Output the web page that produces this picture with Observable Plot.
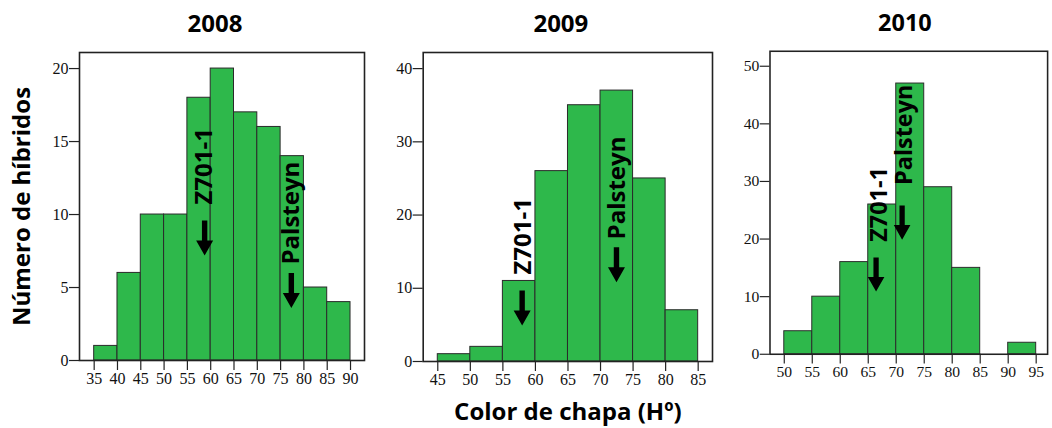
<!DOCTYPE html>
<html>
<head>
<meta charset="utf-8">
<script src="https://cdn.jsdelivr.net/npm/d3@7"></script>
<script src="https://cdn.jsdelivr.net/npm/@observablehq/plot@0.6"></script>
<style>
  html, body { margin: 0; padding: 0; background: #fff; }
  #wrap { position: relative; width: 1052px; height: 428px; overflow: hidden; background: #fff; }
  .panel { position: absolute; top: 0; }
</style>
</head>
<body>
<div id="wrap">
  <div class="panel" id="p2008" style="left:0px"></div>
  <div class="panel" id="p2009" style="left:370px"></div>
  <div class="panel" id="p2010" style="left:720px"></div>
</div>
<script>
// ---- Data ----
const years = ["2008", "2009", "2010"];

const edges2008 = [35, 40, 45, 50, 55, 60, 65, 70, 75, 80, 85, 90];
const counts2008 = [1, 6, 10, 10, 18, 20, 17, 16, 14, 5, 4];
const edges2009 = [45, 50, 55, 60, 65, 70, 75, 80, 85];
const counts2009 = [1, 2, 11, 26, 35, 37, 25, 7];
const edges2010 = [50, 55, 60, 65, 70, 75, 80, 85, 90, 95];
const counts2010 = [4, 10, 16, 26, 47, 29, 15, 0, 2];

const xTicks2008 = [35, 40, 45, 50, 55, 60, 65, 70, 75, 80, 85, 90];
const xTicks2009 = [45, 50, 55, 60, 65, 70, 75, 80, 85];
const xTicks2010 = [50, 55, 60, 65, 70, 75, 80, 85, 90, 95];
const yTicks2008 = [0, 5, 10, 15, 20];
const yTicks2009 = [0, 10, 20, 30, 40];
const yTicks2010 = [0, 10, 20, 30, 40, 50];

// annotation labels and their positions (x = color Hº, y = count level)
const labelNames = ["Z701-1", "Palsteyn"];
const labelX2008 = [58.7, 77.3];
const labelY2008 = [13.3, 10.1];
const arrowX2008 = [58.7, 77.3];
const arrowY2008 = [8.4, 4.8];
const labelX2009 = [58.2, 72.55];
const labelY2009 = [17.1, 23.7];
const arrowX2009 = [57.96, 72.45];
const arrowY2009 = [7.3, 13.2];
const labelX2010 = [67.1, 71.45];
const labelY2010 = [26.0, 38.1];
const arrowX2010 = [66.4, 71.05];
const arrowY2010 = [13.85, 22.85];

const yTitle = "Número de híbridos";
const xTitle = "Color de chapa (Hº)";

// ---- Styling ----
const GREEN = "#2eb84b";
const BOLD = "'Open Sans', 'DejaVu Sans', sans-serif";
const SERIF = "'Liberation Serif', 'Times New Roman', serif";

const arrowSymbol = {
  draw(ctx) {
    ctx.moveTo(-2.7, -17.5);
    ctx.lineTo(2.7, -17.5);
    ctx.lineTo(2.7, 2.5);
    ctx.lineTo(8.5, 2.5);
    ctx.lineTo(0, 17.5);
    ctx.lineTo(-8.5, 2.5);
    ctx.lineTo(-2.7, 2.5);
    ctx.closePath();
  }
};

function bins(edges, counts) {
  return counts.map((c, i) => ({x1: edges[i], x2: edges[i + 1], n: c})).filter(d => d.n > 0);
}
function pts(xs, ys, names) {
  return xs.map((x, i) => ({x, y: ys[i], name: names ? names[i] : null}));
}

function panel(cfg) {
  const marks = [
    Plot.rectY(bins(cfg.edges, cfg.counts), {x1: "x1", x2: "x2", y: "n", fill: GREEN, stroke: "#2a2a2a", strokeWidth: 1, insetLeft: 0, insetRight: 0}),
    Plot.frame({stroke: "#222", strokeWidth: 1.6}),
    Plot.axisX({ticks: cfg.xTicks, tickSize: 10, tickPadding: 2, label: null, stroke: "#222", strokeWidth: 1.2, fill: "#111", fontFamily: SERIF, fontSize: 16}),
    Plot.axisY({ticks: cfg.yTicks, tickSize: 10, tickPadding: 1, label: null, stroke: "#222", strokeWidth: 1.2, fill: "#111", fontFamily: SERIF, fontSize: 16}),
    Plot.text(pts(cfg.labelX, cfg.labelY, labelNames), {x: "x", y: "y", text: "name", rotate: -90, textAnchor: "middle", lineAnchor: "middle", fontFamily: BOLD, fontWeight: "bold", fontSize: 24, fill: "#000"}),
    Plot.dot(pts(cfg.arrowX, cfg.arrowY), {x: "x", y: "y", symbol: arrowSymbol, fill: "#000", stroke: "none", r: 10}),
    Plot.text([cfg.title], {frameAnchor: "top", dy: -28.5, dx: cfg.titleDx, textAnchor: "middle", lineAnchor: "middle", fontFamily: BOLD, fontWeight: "bold", fontSize: 24, fill: "#000"})
  ];
  if (cfg.yTitle) marks.push(Plot.text([cfg.yTitle], {frameAnchor: "left", dx: -57, rotate: -90, textAnchor: "middle", lineAnchor: "middle", fontFamily: BOLD, fontWeight: "bold", fontSize: 24, fill: "#000"}));
  if (cfg.xTitle) marks.push(Plot.text([cfg.xTitle], {frameAnchor: "bottom", dy: 51, textAnchor: "middle", lineAnchor: "middle", fontFamily: BOLD, fontWeight: "bold", fontSize: 24, fill: "#000"}));
  return Plot.plot({
    width: cfg.width,
    height: 428,
    marginLeft: cfg.ml,
    marginRight: cfg.mr,
    marginTop: 52,
    marginBottom: cfg.mb,
    style: {fontFamily: SERIF, fontSize: "16px", background: "transparent", overflow: "visible"},
    x: {domain: cfg.xDomain},
    y: {domain: cfg.yDomain},
    marks
  });
}

document.getElementById("p2008").appendChild(panel({
  title: years[0], titleDx: -7, width: 370, ml: 79, mr: 6, mb: 68,
  xDomain: [31.85, 93.0], yDomain: [0, 21.1],
  edges: edges2008, counts: counts2008, xTicks: xTicks2008, yTicks: yTicks2008,
  labelX: labelX2008, labelY: labelY2008, arrowX: arrowX2008, arrowY: arrowY2008,
  yTitle
}));
document.getElementById("p2009").appendChild(panel({
  title: years[1], titleDx: -7, width: 350, ml: 52.7, mr: 8, mb: 67,
  xDomain: [42.76, 87.2], yDomain: [0, 42.2],
  edges: edges2009, counts: counts2009, xTicks: xTicks2009, yTicks: yTicks2009,
  labelX: labelX2009, labelY: labelY2009, arrowX: arrowX2009, arrowY: arrowY2009,
  xTitle
}));
document.getElementById("p2010").appendChild(panel({
  title: years[2], titleDx: -4, width: 340, ml: 50.7, mr: 5, mb: 65.7,
  xDomain: [47.45, 97.04], yDomain: [0, 52.6],
  edges: edges2010, counts: counts2010, xTicks: xTicks2010, yTicks: yTicks2010,
  labelX: labelX2010, labelY: labelY2010, arrowX: arrowX2010, arrowY: arrowY2010
}));
</script>
</body>
</html>
